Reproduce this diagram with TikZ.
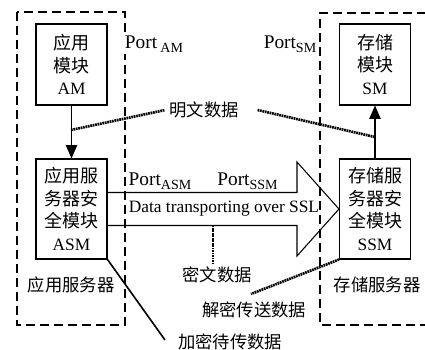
\documentclass[tikz,border=0pt]{standalone}
\usepackage{fontspec}
\setmainfont{Liberation Serif}
\newfontfamily\cjk{Noto Sans CJK SC}
\usetikzlibrary{arrows.meta,calc}
\newcommand{\portsub}[1]{\raisebox{-0.45ex}{\fontsize{10.5}{12}\selectfont #1}}
\begin{document}
\begin{tikzpicture}[x=0.75pt,y=-0.75pt,
 box/.style={draw,line width=0.8pt,minimum width=53.25pt,align=center,font=\fontsize{13}{17}\selectfont,inner sep=0pt},
 frame/.style={line width=2.1pt,dash pattern=on 6.5pt off 4pt},
 dotline/.style={line width=2pt,dash pattern=on 1.3pt off 0.55pt},
 lbl/.style={font=\cjk\fontsize{13}{15}\selectfont,inner sep=3pt},
 port/.style={font=\fontsize{14.5}{16}\selectfont,fill=white,inner sep=1pt},
 arr/.style={line width=0.8pt,-{Triangle[length=10pt,width=8.5pt]}},
 bigarrow/.style={line width=0.8pt,line join=miter}]
\useasboundingbox (0,0) rectangle (425,350);
% dashed server frames
\draw[frame] (17,12) rectangle (125,325);
\draw[frame] (440,13) -| (320,325) -- (440,325);
% module boxes
\node[box,minimum height=60.75pt] (am) at (71.5,64.5) {{\cjk\fontsize{13.5}{17}\selectfont 应用}\\{\cjk\fontsize{13.5}{17}\selectfont 模块}\\AM};
\node[box,minimum height=75pt] (asm) at (71.5,209) {{\cjk\fontsize{13.5}{17}\selectfont 应用服}\\{\cjk\fontsize{13.5}{17}\selectfont 务器安}\\{\cjk\fontsize{13.5}{17}\selectfont 全模块}\\ASM};
\node[box,minimum height=60.75pt] (sm) at (375,64.5) {{\cjk\fontsize{13.5}{17}\selectfont 存储}\\{\cjk\fontsize{13.5}{17}\selectfont 模块}\\SM};
\node[box,minimum height=75pt] (ssm) at (375,209) {{\cjk\fontsize{13.5}{17}\selectfont 存储服}\\{\cjk\fontsize{13.5}{17}\selectfont 务器安}\\{\cjk\fontsize{13.5}{17}\selectfont 全模块}\\SSM};
% arrows
\draw[arr] (am) -- (asm);
\draw[arr] (ssm) -- (sm);
% big transport arrow
\draw[bigarrow] ($(asm.east)+(0,-16.5)$) -- (297,192.5) -- (297,162) -- (ssm.west) -- (297,256) -- (297,225.5) -- ($(asm.east)+(0,16.5)$);
\node[font=\fontsize{13}{15}\selectfont,inner sep=1pt] (ssl) at (224,209) {Data transporting over SSL};
% port labels
\node[port] (pam) at (154,44) {Port\,\portsub{AM}};
\node[port] (psm) at (290,44) {Port\portsub{SM}};
\node[port] (pasm) at (160,181) {Port\portsub{ASM}};
\node[port] (pssm) at (247.5,181) {Port\portsub{SSM}};
% server labels
\node[lbl] (appsrv) at (71,285) {应用服务器};
\node[lbl] (stosrv) at (377,285) {存储服务器};
% plaintext data
\coordinate (p1) at (71,130);
\coordinate (p2) at (375,137);
\node[lbl] (mw) at (204,110) {明文数据};
\draw[dotline] (p1) -- (mw.west);
\draw[dotline] ([xshift=11pt]mw.east) -- (p2);
% ciphertext data
\coordinate (c1) at (213,225.5);
\node[lbl] (mi) at (217,275) {密文数据};
\draw[dotline] (c1) -- (c1 |- mi.north);
% decrypted transfer data
\node[lbl] (jm) at (254,310) {解密传送数据};
\coordinate (jmend) at (251,294);
\draw[dotline] (ssm.south west) -- (jmend);
% encrypted pending data
\node[lbl] (jp) at (230,342) {加密待传数据};
\coordinate (jpend) at (165,340);
\draw[line width=1.2pt] (asm.south east) -- (jpend);
\end{tikzpicture}
\end{document}
